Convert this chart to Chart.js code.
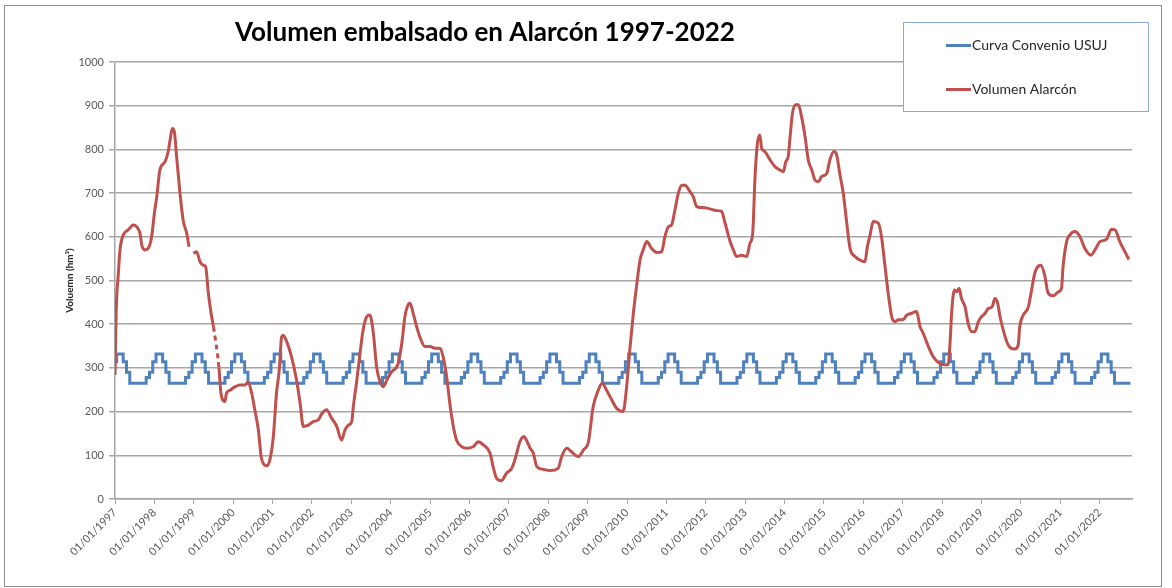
<!DOCTYPE html>
<html>
<head>
<meta charset="utf-8">
<title>Volumen embalsado en Alarcón 1997-2022</title>
<script src="https://cdn.jsdelivr.net/npm/chart.js@4.4.1/dist/chart.umd.min.js"></script>
<style>
  html, body { margin: 0; padding: 0; background: #fff; }
  #wrap { width: 1172px; height: 588px; }
</style>
</head>
<body>
<div id="wrap"><canvas id="alarconChart" width="1172" height="588"></canvas></div>
<script>
// ============ DATA ============
const chartTitle = 'Volumen embalsado en Alarcón 1997-2022';
const yAxisTitle = 'Voluemn (hm³)';
const seriesNames = ['Curva Convenio USUJ', 'Volumen Alarcón'];

// x tick labels: 1 January of each year
const tickYears = [1997, 1998, 1999, 2000, 2001, 2002, 2003, 2004, 2005, 2006, 2007, 2008, 2009,
  2010, 2011, 2012, 2013, 2014, 2015, 2016, 2017, 2018, 2019, 2020, 2021, 2022];
const yTicks = [0, 100, 200, 300, 400, 500, 600, 700, 800, 900, 1000];
const xEnd = 2022.82;

// convention curve (hm³), one value per month, each holds from mid-month to mid-month
const convMonths = [332, 332, 314, 290, 265, 265, 265, 265, 265, 278, 290, 314];
const convStart = 314;
const convEnd = 2022.78;

// reservoir volume (hm³), dates as decimal years; null = no data
const volDates = [
  1997.00, 1997.03, 1997.085, 1997.127, 1997.21, 1997.34, 1997.465, 1997.55, 1997.635, 1997.68,
  1997.76, 1997.846, 1997.93, 1998.00, 1998.06, 1998.14, 1998.27, 1998.35, 1998.40, 1998.455,
  1998.506, 1998.565, 1998.65, 1998.73, 1998.82, 1998.88, 1998.93, 1998.99, 1999.07, 1999.16,
  1999.24, 1999.30, 1999.37, 1999.44, 1999.50, 1999.64, 1999.69, 1999.79, 1999.83, 1999.92,
  2000.05, 2000.17, 2000.30, 2000.38, 2000.47, 2000.55, 2000.64, 2000.71, 2000.76, 2000.85,
  2000.93, 2001.02, 2001.10, 2001.17, 2001.23, 2001.27, 2001.36, 2001.48, 2001.61, 2001.70,
  2001.78, 2001.91, 2002.03, 2002.16, 2002.25, 2002.37, 2002.50, 2002.63, 2002.75, 2002.84,
  2002.92, 2003.01, 2003.05, 2003.13, 2003.22, 2003.30, 2003.39, 2003.47, 2003.56, 2003.64,
  2003.73, 2003.81, 2003.90, 2004.02, 2004.19, 2004.28, 2004.36, 2004.42, 2004.49, 2004.57,
  2004.66, 2004.74, 2004.87, 2005.00, 2005.12, 2005.25, 2005.33, 2005.42, 2005.50, 2005.59,
  2005.67, 2005.80, 2005.93, 2006.10, 2006.22, 2006.35, 2006.52, 2006.60, 2006.69, 2006.81,
  2006.94, 2007.07, 2007.15, 2007.28, 2007.38, 2007.47, 2007.54, 2007.62, 2007.71, 2007.87,
  2008.04, 2008.25, 2008.34, 2008.47, 2008.59, 2008.76, 2008.89, 2009.02, 2009.14, 2009.27,
  2009.37, 2009.48, 2009.61, 2009.74, 2009.90, 2009.99, 2010.07, 2010.16, 2010.24, 2010.33,
  2010.41, 2010.50, 2010.62, 2010.75, 2010.88, 2010.96, 2011.05, 2011.13, 2011.20, 2011.30,
  2011.39, 2011.47, 2011.60, 2011.68, 2011.77, 2011.89, 2012.06, 2012.27, 2012.40, 2012.49,
  2012.61, 2012.70, 2012.78, 2012.91, 2013.04, 2013.12, 2013.19, 2013.25, 2013.31, 2013.37,
  2013.42, 2013.50, 2013.63, 2013.76, 2013.88, 2013.97, 2014.03, 2014.09, 2014.14, 2014.20,
  2014.29, 2014.35, 2014.43, 2014.52, 2014.60, 2014.69, 2014.77, 2014.86, 2014.94, 2015.07,
  2015.15, 2015.25, 2015.32, 2015.40, 2015.49, 2015.57, 2015.66, 2015.79, 2015.91, 2016.04,
  2016.10, 2016.17, 2016.25, 2016.38, 2016.46, 2016.55, 2016.63, 2016.72, 2016.80, 2016.89,
  2017.01, 2017.10, 2017.22, 2017.35, 2017.44, 2017.52, 2017.65, 2017.77, 2017.92, 2018.07,
  2018.15, 2018.20, 2018.24, 2018.31, 2018.37, 2018.43, 2018.49, 2018.58, 2018.66, 2018.75,
  2018.83, 2018.92, 2019.00, 2019.09, 2019.17, 2019.27, 2019.34, 2019.41, 2019.47, 2019.55,
  2019.64, 2019.72, 2019.85, 2019.93, 2019.97, 2020.06, 2020.19, 2020.27, 2020.35, 2020.44,
  2020.51, 2020.61, 2020.69, 2020.82, 2020.95, 2021.03, 2021.07, 2021.16, 2021.24, 2021.37,
  2021.50, 2021.62, 2021.78, 2021.88, 2022.01, 2022.17, 2022.30, 2022.39, 2022.51, 2022.64,
  2022.74
];
const volValues = [
  284, 430, 516, 570, 604, 616, 627, 623, 608, 581,
  570, 574, 600, 654, 692, 753, 772, 795, 822, 848,
  841, 783, 700, 638, 608, 577, null, 562, 566, 543,
  535, 532, 471, 425, 394, 300, 242, 223, 242, 249,
  257, 261, 261, 268, 242, 204, 158, 97, 82, 76,
  89, 143, 242, 295, 371, 375, 360, 326, 272, 219,
  166, 169, 177, 181, 195, 204, 185, 166, 135, 158,
  169, 177, 211, 265, 333, 387, 417, 421, 379, 303,
  268, 257, 272, 291, 310, 356, 417, 440, 448, 425,
  394, 371, 349, 349, 345, 345, 326, 280, 219, 166,
  135, 120, 116, 120, 131, 124, 105, 74, 47, 42,
  59, 70, 89, 131, 143, 130, 116, 105, 74, 68,
  65, 70, 97, 116, 108, 97, 112, 131, 211, 249,
  265, 249, 227, 207, 200, 257, 341, 425, 486, 547,
  570, 589, 574, 564, 566, 600, 623, 627, 654, 699,
  718, 718, 703, 692, 669, 667, 665, 660, 658, 631,
  591, 570, 555, 558, 555, 585, 608, 738, 814, 833,
  802, 795, 776, 760, 753, 749, 772, 783, 829, 883,
  902, 902, 875, 829, 776, 753, 730, 726, 738, 745,
  776, 795, 788, 745, 699, 638, 574, 555, 547, 543,
  577, 604, 635, 631, 600, 532, 471, 417, 406, 410,
  410, 421, 425, 429, 394, 379, 349, 326, 311, 307,
  307, 356, 425, 478, 474, 482, 459, 440, 402, 383,
  383, 406, 417, 425, 436, 440, 459, 448, 417, 387,
  360, 347, 343, 352, 394, 421, 440, 478, 516, 533,
  535, 509, 471, 465, 474, 482, 532, 589, 604, 612,
  600, 574, 558, 570, 589, 594, 617, 616, 589, 566,
  548
];
// stretch drawn dashed in the original (incomplete record)
const dashedFrom = [1999.50];

// ============ SERIES ============
function buildConvention() {
  const pts = [{ x: tickYears[0], y: convStart }];
  let last = convStart;
  tickYears.forEach(yr => {
    convMonths.forEach((v, m) => {
      const x = yr + (m + 0.5) / 12;
      if (x < convEnd) { pts.push({ x, y: v }); last = v; }
    });
  });
  pts.push({ x: convEnd, y: last });
  return pts;
}
const volPoints = volDates.map((d, i) => ({ x: d, y: volValues[i] }));

// ============ FRAME / TITLE / LEGEND ============
const FONT = 'Lato, "Open Sans", sans-serif';
const decorations = {
  id: 'decorations',
  beforeDraw(chart) {
    const ctx = chart.ctx;
    ctx.save();
    ctx.fillStyle = '#fff';
    ctx.fillRect(0, 0, chart.width, chart.height);
    ctx.restore();
  },
  afterDraw(chart) {
    const ctx = chart.ctx;
    ctx.save();
    // outer frame
    ctx.strokeStyle = '#8c8c8c';
    ctx.lineWidth = 1;
    ctx.strokeRect(4.5, 5.5, 1157, 581);
    // title
    ctx.fillStyle = '#000';
    ctx.font = 'bold 26px ' + FONT;
    ctx.textAlign = 'center';
    ctx.textBaseline = 'middle';
    ctx.fillText(chartTitle, 485, 33);
    // legend box
    ctx.fillStyle = '#fff';
    ctx.fillRect(903, 22, 245, 89);
    ctx.strokeStyle = '#8eaadb';
    ctx.strokeRect(903.5, 22.5, 245, 89);
    ctx.font = '14px ' + FONT;
    ctx.textAlign = 'left';
    chart.data.datasets.forEach((ds, i) => {
      const y = 45.5 + i * 44;
      ctx.strokeStyle = ds.borderColor;
      ctx.lineWidth = 3;
      ctx.beginPath();
      ctx.moveTo(946, y);
      ctx.lineTo(971, y);
      ctx.stroke();
      ctx.fillStyle = '#262626';
      ctx.fillText(ds.label, 972, y);
    });
    ctx.restore();
  }
};

// ============ CHART ============
new Chart(document.getElementById('alarconChart'), {
  type: 'line',
  data: {
    datasets: [
      {
        label: seriesNames[0],
        data: buildConvention(),
        borderColor: '#4f81bd',
        borderWidth: 3,
        pointRadius: 0,
        stepped: true,
        order: 1
      },
      {
        label: seriesNames[1],
        data: volPoints,
        borderColor: '#c0504d',
        borderWidth: 3,
        pointRadius: 0,
        cubicInterpolationMode: 'monotone',
        spanGaps: false,
        order: 0,
        segment: {
          borderDash: c => dashedFrom.includes(c.p0.parsed.x) ? [5, 4] : undefined
        }
      }
    ]
  },
  options: {
    responsive: false,
    animation: false,
    layout: { padding: { left: 60, top: 62, right: 40, bottom: 0 } },
    plugins: { legend: { display: false }, title: { display: false }, tooltip: { enabled: false } },
    scales: {
      x: {
        type: 'linear',
        min: tickYears[0],
        max: xEnd,
        afterBuildTicks: s => { s.ticks = tickYears.map(v => ({ value: v })); },
        afterFit: s => { s.height = 89; },
        grid: { drawOnChartArea: false, drawTicks: true, tickLength: 5, color: '#a6a6a6' },
        border: { display: true, color: '#a6a6a6', width: 1.5 },
        ticks: {
          autoSkip: false,
          minRotation: 45,
          maxRotation: 45,
          padding: 2,
          color: '#595959',
          font: { family: FONT, size: 11 },
          callback: v => '01/01/' + v
        }
      },
      y: {
        min: yTicks[0],
        max: yTicks[yTicks.length - 1],
        afterBuildTicks: s => { s.ticks = yTicks.map(v => ({ value: v })); },
        afterFit: s => { s.width = 55; },
        grid: { color: '#a6a6a6', lineWidth: 1.5, tickLength: 6 },
        border: { display: true, color: '#a6a6a6', width: 1.5 },
        ticks: {
          padding: 5,
          color: '#595959',
          font: { family: FONT, size: 11 },
          callback: v => String(v)
        },
        title: {
          display: true,
          text: yAxisTitle,
          color: '#262626',
          padding: { top: 4, bottom: 0 },
          font: { family: FONT, size: 10, weight: 'bold' }
        }
      }
    }
  },
  plugins: [decorations]
});
</script>
</body>
</html>
